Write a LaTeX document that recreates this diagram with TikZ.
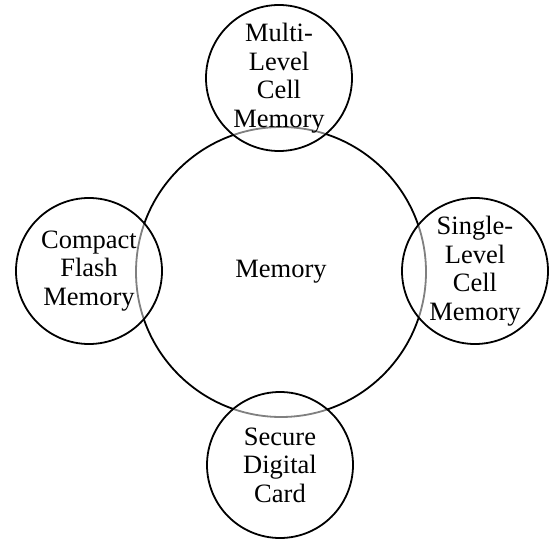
\documentclass[tikz,border=0pt]{standalone}
\usepackage{fontspec}
\setmainfont{Liberation Serif}
\usepackage{tikz}
\usetikzlibrary{positioning,shapes}

\begin{document}
\begin{tikzpicture}[x=1pt,y=-1pt,
  memcircle/.style={circle, draw, line width=1.8pt, inner sep=0pt, align=center,
    font=\fontsize{26.5}{28.5}\selectfont},
  subcircle/.style={memcircle, minimum size=146pt, fill=white, fill opacity=0.5, text opacity=1}]
\useasboundingbox (0,0) rectangle (554,540);
% Mitte
\node[memcircle, minimum size=290pt] (mem) at (281,272) {Memory};
% oben
\node[subcircle] (mlc) at (279,78) {Multi-\\Level\\Cell\\Memory};
% links
\node[subcircle] (cf) at (89,271) {Compact\\Flash\\Memory};
% rechts
\node[subcircle] (slc) at (475,271) {Single-\\Level\\Cell\\Memory};
% unten
\node[subcircle] (sd) at (280,465) {Secure\\Digital\\Card};
\end{tikzpicture}
\end{document}
